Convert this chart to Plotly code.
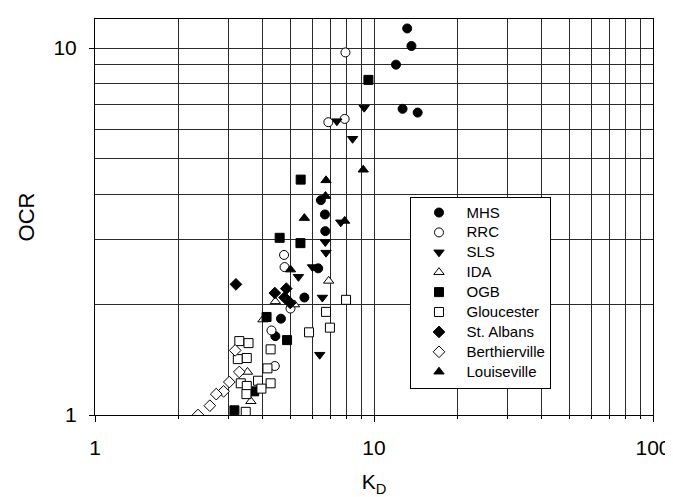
import plotly.graph_objects as go
import math

# Data (KD, OCR)
MHS_kd = [13.15, 13.62, 11.99, 12.66, 14.34, 6.45, 6.67, 6.69, 6.31, 5.63, 4.64, 4.43]
MHS_ocr = [11.31, 10.13, 9.01, 6.83, 6.67, 3.85, 3.52, 3.17, 2.51, 2.09, 1.83, 1.64]

RRC_kd = [7.90, 7.85, 6.86, 4.76, 4.78, 5.02, 4.29, 4.41]
RRC_ocr = [9.73, 6.41, 6.28, 2.73, 2.53, 1.95, 1.70, 1.36]

SLS_kd = [9.22, 7.36, 8.38, 7.60, 6.69, 6.73, 5.36, 6.02, 6.53, 6.39]
SLS_ocr = [6.88, 6.32, 5.66, 3.35, 2.96, 2.77, 2.38, 2.53, 2.09, 1.46]

IDA_kd = [6.88, 4.43, 5.19, 4.00, 3.52, 3.62]
IDA_ocr = [2.32, 2.04, 2.00, 1.82, 1.31, 1.09]

OGB_kd = [9.55, 5.46, 4.59, 5.45, 4.12, 4.88, 3.72, 3.16]
OGB_ocr = [8.19, 4.38, 3.04, 2.94, 1.85, 1.60, 1.16, 1.03]

GLO_kd = [7.94, 6.73, 6.95, 5.85, 4.26, 3.29, 3.55, 3.25, 3.50, 4.15, 3.33, 3.84, 4.26, 3.50, 3.95, 3.49, 3.47]
GLO_ocr = [2.06, 1.91, 1.73, 1.68, 1.51, 1.59, 1.57, 1.42, 1.43, 1.34, 1.22, 1.24, 1.22, 1.20, 1.18, 1.14, 1.02]

STA_kd = [3.20, 4.41, 4.85, 4.78, 5.01]
STA_ocr = [2.27, 2.15, 2.21, 2.09, 2.02]

BER_kd = [3.18, 3.29, 3.03, 2.89, 2.72, 2.58, 2.34]
BER_ocr = [1.50, 1.31, 1.23, 1.16, 1.14, 1.06, 1.00]

LOU_kd = [9.15, 6.73, 6.70, 5.63, 7.85, 5.02]
LOU_ocr = [4.66, 4.36, 3.95, 3.44, 3.38, 2.49]

series = [
    ("MHS", MHS_kd, MHS_ocr, "circle", "black"),
    ("RRC", RRC_kd, RRC_ocr, "circle", "white"),
    ("SLS", SLS_kd, SLS_ocr, "triangle-down", "black"),
    ("IDA", IDA_kd, IDA_ocr, "triangle-up", "white"),
    ("OGB", OGB_kd, OGB_ocr, "square", "black"),
    ("Gloucester", GLO_kd, GLO_ocr, "square", "white"),
    ("St. Albans", STA_kd, STA_ocr, "diamond", "black"),
    ("Berthierville", BER_kd, BER_ocr, "diamond", "white"),
    ("Louiseville", LOU_kd, LOU_ocr, "triangle-up", "black"),
]

x_major = [1, 10, 100]
x_labels = ["1", "10", "100"]
x_minor = [m * d for d in (1, 10) for m in range(2, 10)]
y_major = [1, 10]
y_labels = ["1", "10"]
y_minor = [2, 3, 4, 5, 6, 7, 8, 9]

FONT = "Arial, Liberation Sans, sans-serif"

fig = go.Figure()
for name, xs, ys, sym, col in series:
    fig.add_trace(go.Scatter(
        x=xs, y=ys, mode="markers",
        name="<span style='font-size:15px'>%s</span>" % name,
        marker=dict(symbol=sym, color=col, size=9,
                    line=dict(color="black", width=1)),
    ))

grid = "#2a2a2a"
fig.update_layout(
    width=673, height=497,
    margin=dict(l=87, r=20, t=10, b=90),
    paper_bgcolor="white", plot_bgcolor="white",
    font=dict(family=FONT, color="black", size=21),
    showlegend=True,
    legend=dict(
        x=0.5654, y=0.5516, xanchor="left", yanchor="top",
        bgcolor="white", bordercolor="black", borderwidth=1,
        font=dict(size=13, family=FONT), tracegroupgap=0,
        itemwidth=45,
    ),
)
fig.update_xaxes(
    type="log", range=[0, 2],
    tickmode="array", tickvals=x_major, ticktext=x_labels,
    ticks="outside", ticklen=6, tickcolor="black",
    showgrid=True, gridcolor=grid, gridwidth=1,
    minor=dict(tickmode="array", tickvals=x_minor, showgrid=True,
               gridcolor=grid, gridwidth=1, ticks="outside", ticklen=3,
               tickcolor="black"),
    showline=True, linecolor="black", linewidth=1, mirror=True,
    zeroline=False,
    title=dict(text="K<sub>D</sub>", font=dict(size=21), standoff=16),
    ticklabelstandoff=8,
)
fig.update_yaxes(
    type="log", range=[0, math.log10(12)],
    tickmode="array", tickvals=y_major, ticktext=y_labels,
    ticks="outside", ticklen=5, tickcolor="black",
    showgrid=True, gridcolor=grid, gridwidth=1,
    minor=dict(tickmode="array", tickvals=y_minor, showgrid=True,
               gridcolor=grid, gridwidth=1, ticks=""),
    showline=True, linecolor="black", linewidth=1, mirror=True,
    zeroline=False,
    title=dict(text="OCR", font=dict(size=22), standoff=12),
    ticklabelstandoff=8,
)

fig.write_html("out.html")
